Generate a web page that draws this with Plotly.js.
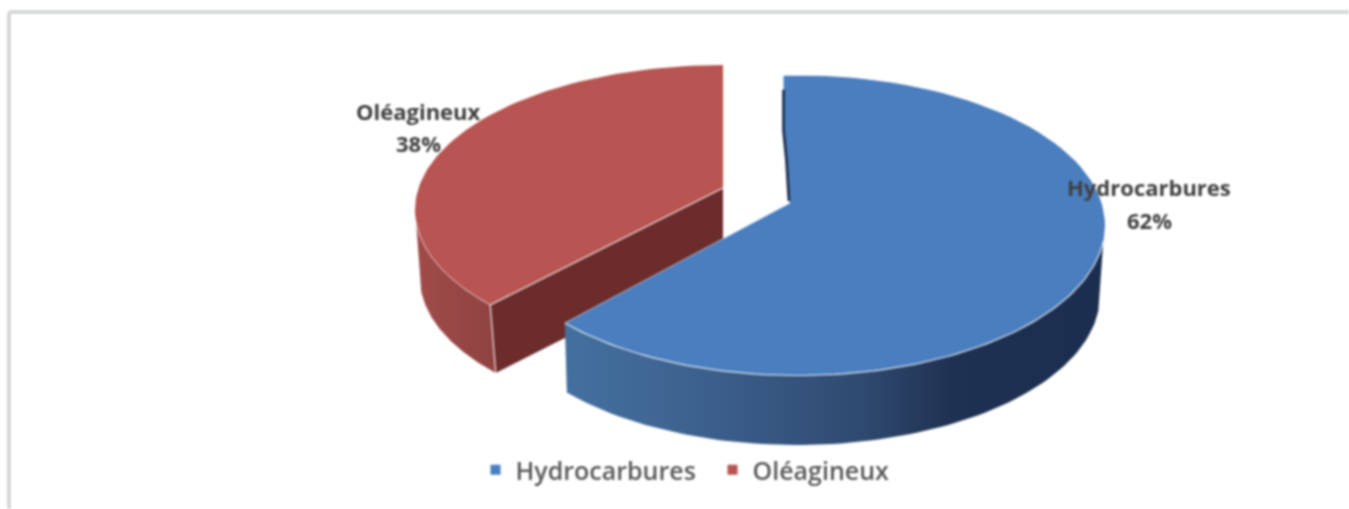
<!DOCTYPE html>
<html><head><meta charset="utf-8">
<script src="https://cdn.plot.ly/plotly-3.0.1.min.js"></script>
<style>html,body{margin:0;padding:0;background:#fff;overflow:hidden}#c{width:1349px;height:509px;filter:blur(0.85px)}</style>
</head><body><div id="c"></div>
<script>
const categories = ["Hydrocarbures", "Oléagineux"];
const values = [62, 38];
const topColors = ["#4a7ebf", "#b85451"];
const total = values.reduce((a, b) => a + b, 0);
const pctLabels = values.map(v => Math.round(v / total * 100) + "%");

// scene geometry: perspective-drawn discs in pixel-like axis units
const disc = [
  {ax:790, ay:203, cx:798, cy:225.5, rx:307, ry:150, bcx:797, bcy:295, brx:303, bry:150, start:92.7, stretch:1.04, wallEnd:-6},
  {ax:723, ay:188, cx:723, cy:210, rx:308, ry:145, bcx:730, bcy:278, brx:310, bry:145, start:90, stretch:0.957, wallEnd:185}
];
const rad = d => d * Math.PI / 180;
function arc(cx, cy, rx, ry, a0, a1) {
  const n = 90, xs = [], ys = [];
  for (let i = 0; i <= n; i++) {
    const t = rad(a0 + (a1 - a0) * i / n);
    xs.push(cx + rx * Math.cos(t)); ys.push(cy - ry * Math.sin(t));
  }
  return {x: xs, y: ys};
}
const poly = (x, y, fill, extra) => Object.assign({x, y, type:"scatter", mode:"lines", fill:"toself", fillcolor:fill,
  line:{width:0}, hoverinfo:"skip", showlegend:false}, extra || {});
const edge = (x, y, w, c) => ({x, y, type:"scatter", mode:"lines", line:{width:w||1.2, color:c||"rgba(255,255,255,0.85)"}, hoverinfo:"skip", showlegend:false});

const sweep = values.map((v, i) => v / total * 360 * disc[i].stretch);
const traces = [];

// Red slice (second category), swept counter-clockwise on screen
{
  const d = disc[1], end = d.start + sweep[1];
  const top = arc(d.cx, d.cy, d.rx, d.ry, d.start, end);
  const ex = top.x[top.x.length - 1], ey = top.y[top.y.length - 1];
  const bot = arc(d.bcx, d.bcy, d.brx, d.bry, end, d.wallEnd);
  const topW = arc(d.cx, d.cy, d.rx, d.ry, d.wallEnd, end);
  const bx = bot.x[0], by = bot.y[0], h = d.bcy - d.cy;
  traces.push(poly(topW.x.concat(bot.x), topW.y.concat(bot.y), "#9a4846",
    {fillgradient:{type:"horizontal", colorscale:[[0,"#a04b49"],[1,"#8e4341"]]}}));
  traces.push(poly([d.ax, d.ax, bx, ex], [d.ay, d.ay + h + 2, by, ey], "#6b2c2b"));
  traces.push(poly(top.x.concat([d.ax]), top.y.concat([d.ay]), topColors[1]));
  traces.push(edge([ex, bx], [ey, by]));
  traces.push(edge([ex, d.ax], [ey, d.ay]));
  const rim = arc(d.cx, d.cy, d.rx, d.ry, d.wallEnd, end);
  traces.push(edge(rim.x, rim.y, 1, "rgba(255,255,255,0.6)"));
}
// Blue slice (first category), swept clockwise on screen
{
  const d = disc[0], end = d.start - sweep[0];
  const top = arc(d.cx, d.cy, d.rx, d.ry, d.start, end);
  const ex = top.x[top.x.length - 1], ey = top.y[top.y.length - 1];
  const topW = arc(d.cx, d.cy, d.rx, d.ry, end, d.wallEnd);
  const bot = arc(d.bcx, d.bcy, d.brx, d.bry, d.wallEnd, end);
  traces.push(poly(topW.x.concat(bot.x), topW.y.concat(bot.y), "#2b4468",
    {fillgradient:{type:"horizontal", colorscale:[[0,"#44709f"],[0.22,"#3e6391"],[0.55,"#2f4a70"],[0.72,"#1f3152"],[1,"#1c2e4f"]]}}));
  // inner edge of the slice bends slightly, the dark sliver follows it
  const sx = top.x[0], sy = top.y[0];
  const bendX = [d.ax - 1, sx + 3, sx, sx];
  const bendY = [d.ay - 2, sy + 85, sy + 55, sy + 14];
  traces.push(poly(top.x.concat([d.ax], bendX), top.y.concat([d.ay], bendY), topColors[0]));
  traces.push(edge(topW.x, topW.y, 1.2, "rgba(255,255,255,0.8)"));
  traces.push(edge([ex, d.ax], [ey, d.ay], 1, "rgba(255,255,255,0.55)"));
  traces.push(edge(bendX, bendY, 2.8, "#1f3152"));
}
// Legend entries
categories.forEach((name, i) => traces.push({
  x:[null], y:[null], type:"scatter", mode:"markers", name,
  marker:{symbol:"square", size:10, color:topColors[i]}, hoverinfo:"skip", showlegend:true
}));

const labelPos = [{x:1149, y:187, y2:220}, {x:418, y:111, y2:143}];
const font = {family:"'Open Sans', sans-serif", size:22, color:"#404040", weight:700};
const annotations = [];
categories.forEach((name, i) => {
  annotations.push({x:labelPos[i].x, y:labelPos[i].y, text:"<b>"+name+"</b>", showarrow:false, font, xanchor:"center", yanchor:"middle"});
  annotations.push({x:labelPos[i].x, y:labelPos[i].y2, text:"<b>"+pctLabels[i]+"</b>", showarrow:false, font, xanchor:"center", yanchor:"middle"});
});

const layout = {
  width:1349, height:509, margin:{l:0, r:0, t:0, b:0},
  paper_bgcolor:"#fff", plot_bgcolor:"#fff",
  xaxis:{range:[0, 1349], visible:false, fixedrange:true},
  yaxis:{range:[509, 0], visible:false, fixedrange:true},
  annotations,
  legend:{orientation:"h", x:0.3525, xanchor:"left", y:0.0765, yanchor:"middle", bgcolor:"rgba(0,0,0,0)",
    font:{family:"'Open Sans', sans-serif", size:25, color:"#595959", weight:600}, traceorder:"normal",
    itemwidth:30, entrywidth:192, entrywidthmode:"pixels"},
  shapes:[
    {type:"line", xref:"x", yref:"y", x0:9, x1:1349, y0:12, y1:12, line:{color:"#d6d8d8", width:4}},
    {type:"line", xref:"x", yref:"y", x0:9, x1:9, y0:12, y1:509, line:{color:"#d6d8d8", width:4}}
  ]
};
Plotly.newPlot("c", traces, layout, {displayModeBar:false, staticPlot:true});
</script></body></html>
